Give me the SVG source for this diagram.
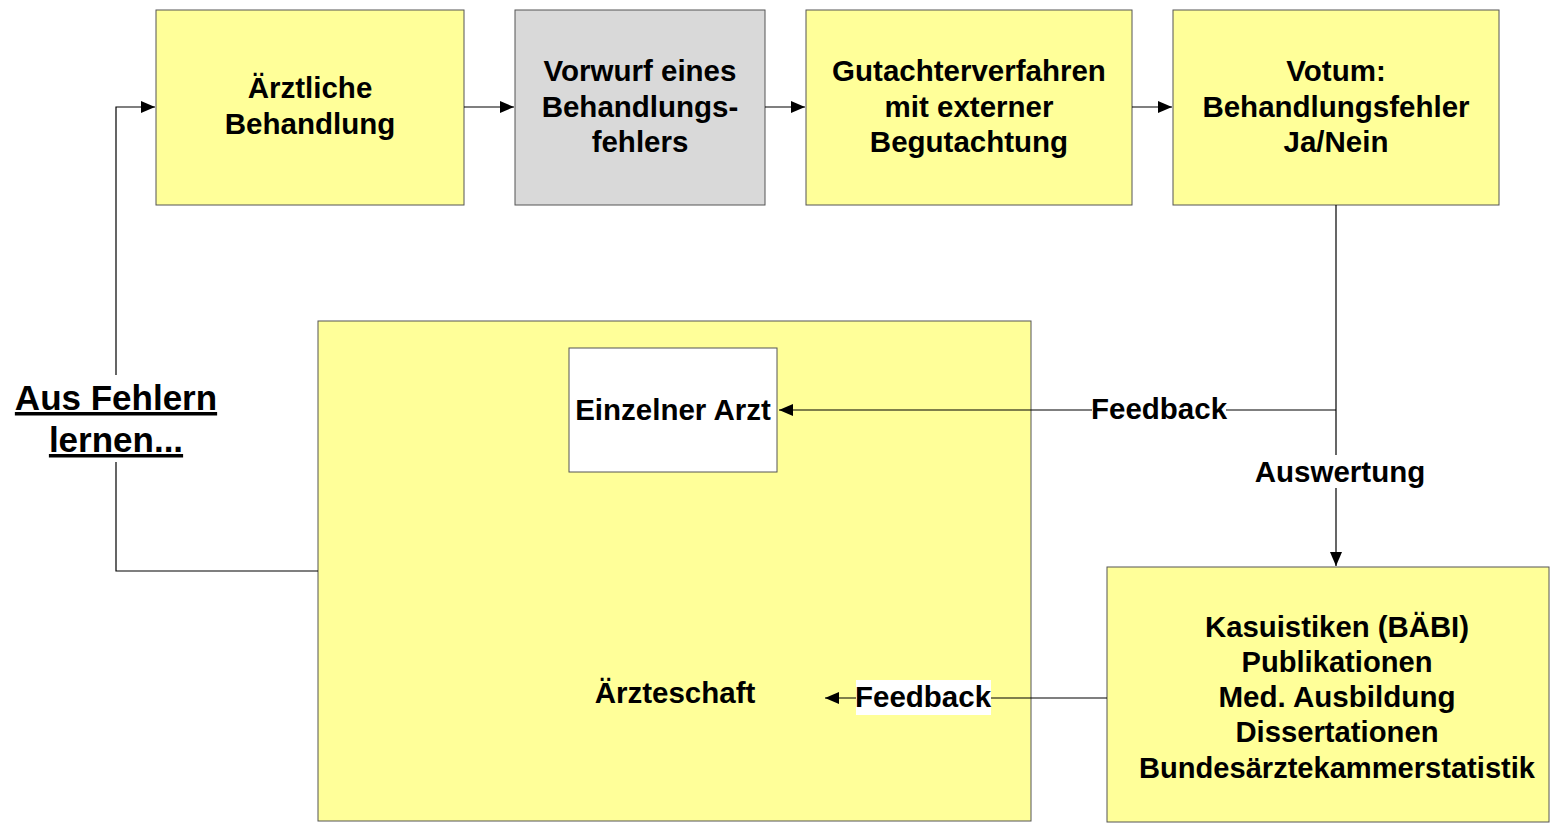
<svg xmlns="http://www.w3.org/2000/svg" width="1550" height="823" viewBox="0 0 1550 823">
<style>
.box{fill:#ffff99;stroke:#555;stroke-width:1}
.t{font-family:"Liberation Sans",Arial,sans-serif;font-weight:bold;font-size:29.5px;fill:#000;text-anchor:middle}
.k{font-size:30px}
.c{fill:none;stroke:#000;stroke-width:1.2}
</style>
<defs>
<marker id="ah" markerWidth="14" markerHeight="12" refX="14" refY="6" orient="auto" markerUnits="userSpaceOnUse">
<path d="M0,0 L14,6 L0,12 Z" fill="#000"/>
</marker>
</defs>
<rect width="1550" height="823" fill="#fff"/>
<g id="n1"><rect class="box" x="156" y="10" width="308" height="195"/>
<text class="t" x="310" y="98">Ärztliche</text><text class="t" x="310" y="134">Behandlung</text></g>
<g id="n2"><rect class="box" x="515" y="10" width="250" height="195" style="fill:#d9d9d9"/>
<text class="t" x="640" y="81">Vorwurf eines</text><text class="t" x="640" y="117">Behandlungs-</text><text class="t" x="640" y="152">fehlers</text></g>
<g id="n3"><rect class="box" x="806" y="10" width="326" height="195"/>
<text class="t" x="969" y="81">Gutachterverfahren</text><text class="t" x="969" y="117">mit externer</text><text class="t" x="969" y="152">Begutachtung</text></g>
<g id="n4"><rect class="box" x="1173" y="10" width="326" height="195"/>
<text class="t" x="1336" y="81">Votum:</text><text class="t" x="1336" y="117">Behandlungsfehler</text><text class="t" x="1336" y="152">Ja/Nein</text></g>
<g id="n5"><rect class="box" x="318" y="321" width="713" height="500"/>
<text class="t" x="675" y="703">Ärzteschaft</text></g>
<g id="n6"><rect x="569" y="348" width="208" height="124" fill="#fff" stroke="#555"/>
<text class="t" x="673" y="420">Einzelner Arzt</text></g>
<g id="n7"><rect class="box" x="1107" y="567" width="442" height="255"/>
<text class="t k" x="1337" y="637" textLength="264" lengthAdjust="spacingAndGlyphs">Kasuistiken (BÄBI)</text>
<text class="t k" x="1337" y="672" textLength="191" lengthAdjust="spacingAndGlyphs">Publikationen</text>
<text class="t k" x="1337" y="707" textLength="237" lengthAdjust="spacingAndGlyphs">Med. Ausbildung</text>
<text class="t k" x="1337" y="742" textLength="203" lengthAdjust="spacingAndGlyphs">Dissertationen</text>
<text class="t k" x="1337" y="778" textLength="396" lengthAdjust="spacingAndGlyphs">Bundesärztekammerstatistik</text></g>
<g id="connectors">
<path class="c" d="M116,375 V107 H155" marker-end="url(#ah)"/>
<path class="c" d="M318,571 H116 V462"/>
<path class="c" d="M464,107 H514" marker-end="url(#ah)"/>
<path class="c" d="M765,107 H805" marker-end="url(#ah)"/>
<path class="c" d="M1132,107 H1172" marker-end="url(#ah)"/>
<path class="c" d="M1336,205 V455"/>
<path class="c" d="M1336,488 V566" marker-end="url(#ah)"/>
<path class="c" d="M1336,410 H779" marker-end="url(#ah)"/>
<path class="c" d="M1107,698 H825" marker-end="url(#ah)"/>
</g>
<g id="labels">
<rect x="1092" y="394" width="134" height="32" fill="#fff"/>
<text class="t" x="1159" y="419">Feedback</text>
<text class="t" x="1340" y="482">Auswertung</text>
<rect x="856" y="680" width="135" height="35" fill="#fff"/>
<text class="t" x="923" y="707">Feedback</text>
<text class="t" x="116" y="410" style="font-size:35px;text-decoration:underline">Aus Fehlern</text>
<text class="t" x="116" y="452" style="font-size:35px;text-decoration:underline">lernen...</text>
</g>
</svg>
